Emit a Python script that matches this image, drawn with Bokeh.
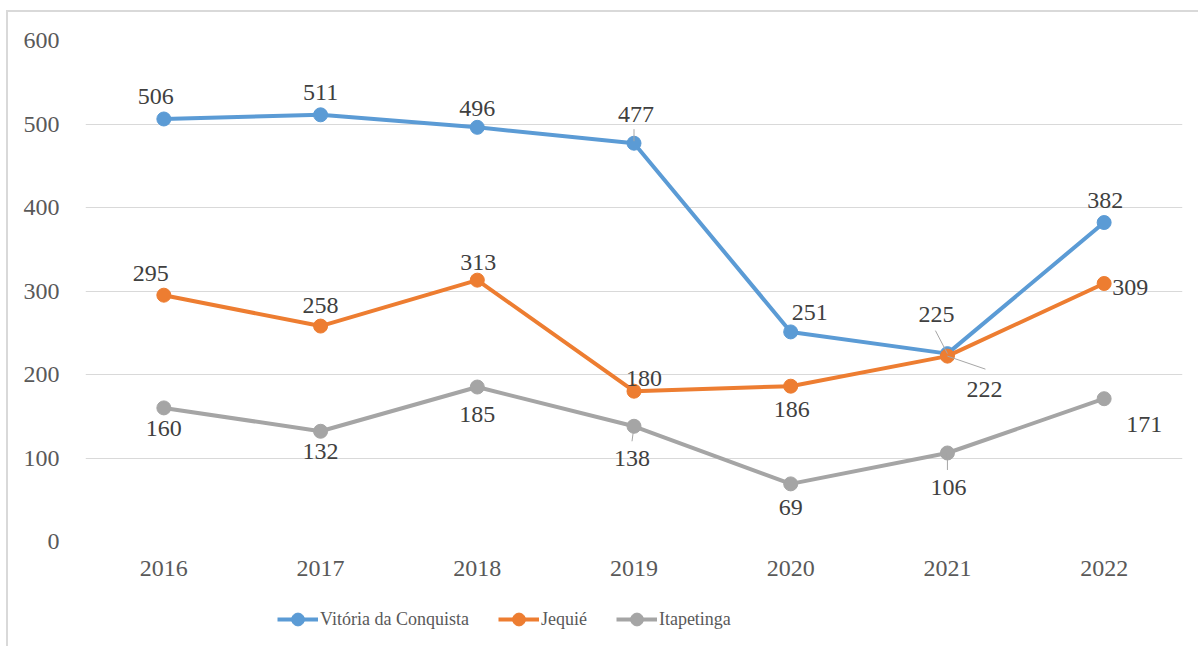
from bokeh.plotting import figure
from bokeh.layouts import column
from bokeh.models import Range1d, FixedTicker, Legend, LegendItem, ColumnDataSource
from bokeh.embed import file_html
from bokeh.resources import INLINE
from bokeh.core.properties import value

# ---- data ----
years = ["2016", "2017", "2018", "2019", "2020", "2021", "2022"]
vitoria = [506, 511, 496, 477, 251, 225, 382]
jequie = [295, 258, 313, 180, 186, 222, 309]
itapetinga = [160, 132, 185, 138, 69, 106, 171]
series_names = ["Vitória da Conquista", "Jequié", "Itapetinga"]
y_ticks = [0, 100, 200, 300, 400, 500, 600]

# ---- styling ----
colors = ["#5b9bd5", "#ed7d31", "#a5a5a5"]
FONT = "'Liberation Serif', 'Times New Roman', serif"
# label offsets in screen pixels (dx, dy downwards) for each series / point
label_offsets = [
    [(-8, -22), (0, -22), (0, -19), (2, -29), (19, -19), (-11, -39), (1, -22)],
    [(-13, -22), (0, -21), (1, -18), (10, -13), (1, 23), (37, 33), (26, 4)],
    [(0, 21), (0, 20), (0, 27), (-2, 32), (0, 24), (1, 35), (40, 26)],
]
# leader lines: (series, index, dx0, dy0, dx1, dy1) in screen pixels
leaders = [
    (0, 3, 0, -14, 0, -2),
    (0, 5, -12, -23, 0, 0),
    (1, 5, 0, 0, 38, 13),
    (2, 3, 0, 0, -2, 15),
    (2, 5, 0, 0, 0, 17),
]

W, H = 1190, 580
ML, MR, MT, MB = 77, 16, 28, 51
LEG_H = 54
LEG_LOC = (192, 11)
frame_w = W - ML - MR
frame_h = H - MT - MB
n = len(years)
ymax = y_ticks[-1]
ux = n / frame_w        # data units per px (x)
uy = ymax / frame_h     # data units per px (y)

p = figure(width=W, height=H, output_backend="svg", toolbar_location=None,
           x_range=Range1d(0, n), y_range=Range1d(0, ymax),
           min_border_left=ML, min_border_right=MR, min_border_top=MT,
           min_border_bottom=MB)
p.outline_line_color = None
p.background_fill_color = "white"
p.border_fill_color = "white"

xs = [i + 0.5 for i in range(n)]
p.xaxis.ticker = FixedTicker(ticks=xs)
p.xaxis.major_label_overrides = {x: y for x, y in zip(xs, years)}
p.yaxis.ticker = FixedTicker(ticks=y_ticks)
for ax in (p.xaxis, p.yaxis):
    ax.axis_line_color = None
    ax.major_tick_line_color = None
    ax.minor_tick_line_color = None
    ax.major_label_text_font = FONT
    ax.major_label_text_font_size = "24px"
    ax.major_label_text_color = "#595959"
p.yaxis.major_label_standoff = 20
p.xaxis.major_label_standoff = 13
p.xgrid.grid_line_color = None
p.ygrid.grid_line_color = "#d9d9d9"
p.ygrid.grid_line_width = 1

all_series = [vitoria, jequie, itapetinga]
sources = []
for s, (vals, col) in enumerate(zip(all_series, colors)):
    src = ColumnDataSource(dict(x=xs, y=vals))
    sources.append(src)
    p.line("x", "y", source=src, line_color=col, line_width=4)
    p.scatter("x", "y", source=src, size=14, fill_color=col, line_color=col)

# leader lines
lx0, ly0, lx1, ly1 = [], [], [], []
for s, i, dx0, dy0, dx1, dy1 in leaders:
    v = all_series[s][i]
    lx0.append(xs[i] + dx0 * ux)
    ly0.append(v - dy0 * uy)
    lx1.append(xs[i] + dx1 * ux)
    ly1.append(v - dy1 * uy)
p.segment(lx0, ly0, lx1, ly1, line_color="#a6a6a6", line_width=1)

# data labels
for s, vals in enumerate(all_series):
    offs = label_offsets[s]
    src = ColumnDataSource(dict(x=xs, y=vals, t=[str(v) for v in vals],
                                dx=[o[0] for o in offs], dy=[o[1] for o in offs]))
    p.text("x", "y", text="t", source=src, x_offset="dx", y_offset="dy",
           text_align="center", text_baseline="middle",
           text_font=value(FONT), text_font_size="24px", text_color="#404040")

# ---- legend strip below the chart (same series, ranges hide the marks) ----
pl = figure(width=W, height=LEG_H, output_backend="svg", toolbar_location=None,
            x_axis_location=None, y_axis_location=None,
            x_range=Range1d(0, n), y_range=Range1d(ymax * 10, ymax * 11),
            min_border_left=ML, min_border_right=MR, min_border_top=0,
            min_border_bottom=0)
pl.outline_line_color = None
pl.xgrid.grid_line_color = None
pl.ygrid.grid_line_color = None
items = []
for src, col, name in zip(sources, colors, series_names):
    lr = pl.line("x", "y", source=src, line_color=col, line_width=4)
    sr = pl.scatter("x", "y", source=src, size=14, fill_color=col, line_color=col)
    items.append(LegendItem(label=name, renderers=[lr, sr]))
legend = Legend(items=items, orientation="horizontal", location=LEG_LOC,
                glyph_width=41, glyph_height=32, label_standoff=2, spacing=29,
                padding=0, margin=0, border_line_color=None,
                background_fill_alpha=0,
                label_text_font=FONT, label_text_font_size="18px",
                label_text_color="#595959")
pl.add_layout(legend, "center")

layout = column(p, pl, spacing=0)
layout.styles = {"border-left": "2px solid #d9d9d9", "border-top": "2px solid #d9d9d9",
                 "margin-left": "6px", "margin-top": "10px"}

open("out.html", "w").write(file_html(layout, INLINE))
